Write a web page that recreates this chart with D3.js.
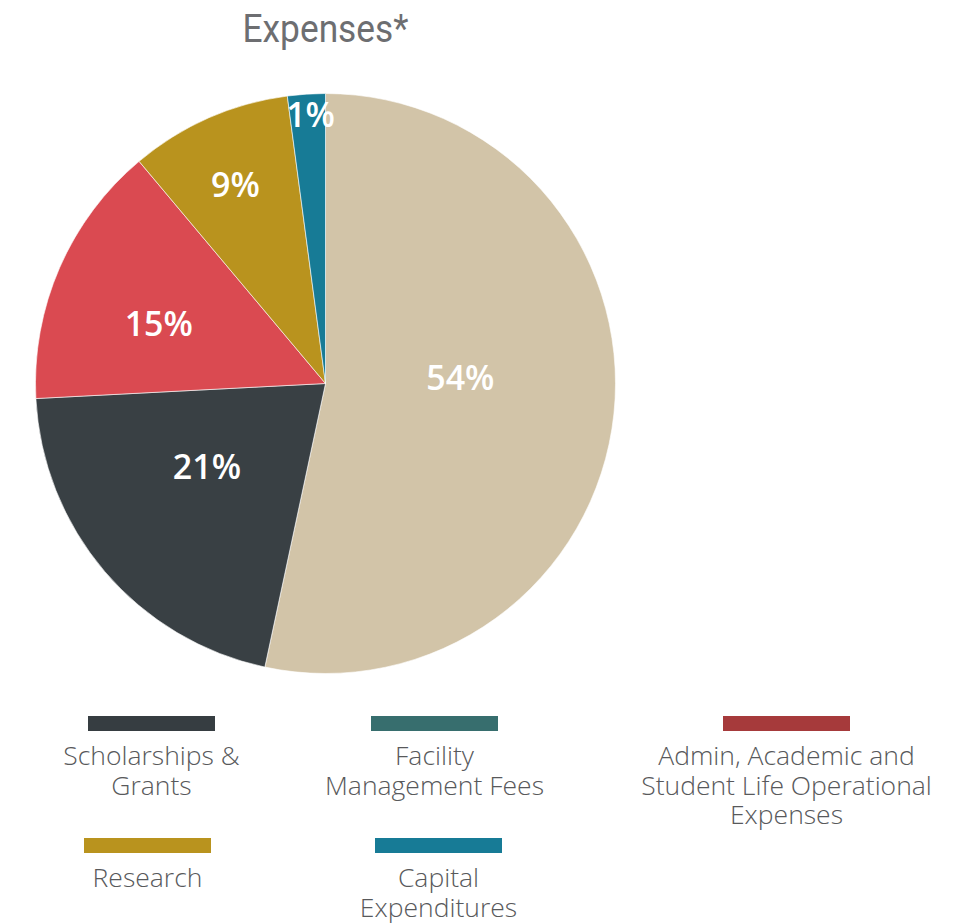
<!DOCTYPE html>
<html><head><meta charset="utf-8">
<script src="https://cdn.jsdelivr.net/npm/d3@7"></script>
<style>
html,body{margin:0;padding:0;background:#fff;}
svg{display:block;}
</style></head>
<body>
<svg id="chart" width="970" height="924"></svg>
<script>
// ---- data ----
const title = "Expenses*";
const sliceNames = ["Facility Management Fees", "Scholarships & Grants", "Admin, Academic and Student Life Operational Expenses", "Research", "Capital Expenditures"];
const sliceValues = [53.3, 20.8, 14.7, 9.0, 2.1];
const sliceLabels = ["54%", "21%", "15%", "9%", "1%"];
const sliceColors = ["#d2c4a8", "#394044", "#da4a51", "#b9931e", "#177b96"];

const legendNames = ["Scholarships & Grants", "Facility Management Fees", "Admin, Academic and Student Life Operational Expenses", "Research", "Capital Expenditures"];
const legendLines = [["Scholarships &", "Grants"], ["Facility", "Management Fees"], ["Admin, Academic and", "Student Life Operational", "Expenses"], ["Research"], ["Capital", "Expenditures"]];
const legendColors = ["#363d41", "#376e6e", "#a63a3b", "#b9931e", "#177b96"];

// ---- layout / style ----
const cx = 325.5, cy = 383.5, R = 290;
const labelPlace = [{r: 135, da: -8.6}, {r: 145, da: 5.3}, {r: 177, da: -3.9}, {r: 218, da: -0.6}, {r: 269, da: 0.6}];
const legendPos = [{x: 151.5, y: 716}, {x: 434.5, y: 716}, {x: 786.5, y: 716}, {x: 147.5, y: 838}, {x: 438.5, y: 838}];

const svg = d3.select("#chart");

svg.append("text")
  .attr("x", cx).attr("y", 42)
  .attr("text-anchor", "middle")
  .attr("font-family", "Roboto, sans-serif")
  .attr("font-size", 39)
  .attr("fill", "#6d6e71")
  .attr("textLength", 166)
  .attr("lengthAdjust", "spacingAndGlyphs")
  .text(title);

const data = sliceValues.map((v, i) => ({name: sliceNames[i], value: v, label: sliceLabels[i], color: sliceColors[i]}));
const pie = d3.pie().value(d => d.value).sort(null);
const arcs = pie(data);
const arc = d3.arc().innerRadius(0).outerRadius(R);

const g = svg.append("g").attr("transform", `translate(${cx},${cy})`);
g.selectAll("path.slice").data(arcs).join("path")
  .attr("class", "slice")
  .attr("d", arc)
  .attr("fill", d => d.data.color)
  .attr("stroke", "#ffffff")
  .attr("stroke-width", 0.6);

g.selectAll("text.lbl").data(arcs).join("text")
  .attr("class", "lbl")
  .attr("transform", (d, i) => {
    const a = (d.startAngle + d.endAngle) / 2 + labelPlace[i].da * Math.PI / 180;
    const r = labelPlace[i].r;
    return `translate(${r * Math.sin(a)},${-r * Math.cos(a)})`;
  })
  .attr("text-anchor", "middle")
  .attr("dy", "0.36em")
  .attr("font-family", "'Open Sans', sans-serif")
  .attr("font-weight", 600)
  .attr("font-size", 34)
  .attr("fill", "#ffffff")
  .text(d => d.data.label);

const lg = svg.append("g");
legendNames.forEach((name, i) => {
  const p = legendPos[i];
  const item = lg.append("g").attr("transform", `translate(${p.x},${p.y})`);
  item.append("rect")
    .attr("x", -63.5).attr("y", 0)
    .attr("width", 127).attr("height", 15)
    .attr("fill", legendColors[i]);
  const t = item.append("text")
    .attr("text-anchor", "middle")
    .attr("font-family", "'Open Sans', sans-serif")
    .attr("font-weight", 300)
    .attr("font-size", 26.5)
    .attr("fill", "#58595b");
  legendLines[i].forEach((ln, j) => {
    t.append("tspan").attr("x", 0).attr("y", 49 + j * 29.5).text(ln);
  });
});
</script>
</body></html>
